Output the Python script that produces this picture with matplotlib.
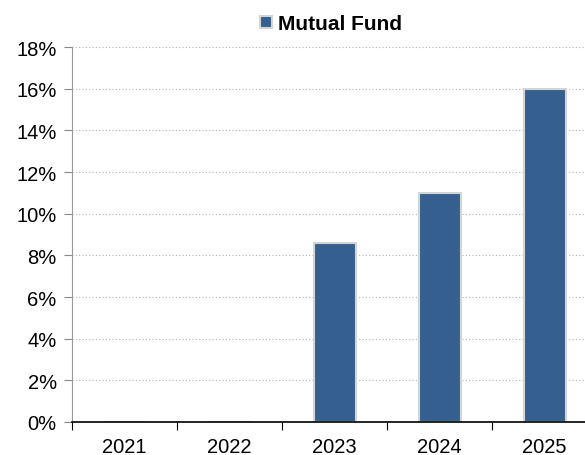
import matplotlib.pyplot as plt
import numpy as np
from matplotlib.ticker import PercentFormatter

# data
years = ['2021', '2022', '2023', '2024', '2025']
mutual_fund = [0.0, 0.0, 8.6, 11.0, 16.0]

plt.rcParams['font.family'] = ['Liberation Sans', 'DejaVu Sans']

fig = plt.figure(figsize=(5.85, 4.56), dpi=100)
# axes runs a bit past the right edge, like the original
ax = fig.add_axes([72/585, 33/456, 525/585, 375/456])

x = np.arange(len(years)) + 0.5
ax.bar(x, mutual_fund, width=0.4, color='#355F8F', edgecolor='#d4d4d4',
       linewidth=1.5, label='Mutual Fund', zorder=2)

ax.set_xlim(0, len(years))
ax.set_ylim(0, 18)
ax.set_yticks(np.arange(0, 19, 2))
ax.yaxis.set_major_formatter(PercentFormatter(decimals=0))
ax.grid(axis='y', color='#b0b0b0', linestyle=(0, (1, 2)), linewidth=0.8, zorder=0)

# ticks at category borders, labels in the middle
ax.set_xticks(np.arange(len(years) + 1))
ax.set_xticklabels([])
ax.set_xticks(x, minor=True)
ax.set_xticklabels(years, minor=True)
ax.tick_params(axis='x', which='major', direction='out', length=6, color='black')
ax.tick_params(axis='x', which='minor', length=0, pad=11, labelsize=14.5)
ax.tick_params(axis='y', direction='out', length=6, color='#888888', labelsize=14.5, pad=5)

for s in ['top', 'right']:
    ax.spines[s].set_visible(False)
ax.spines['left'].set_color('#999999')
ax.spines['bottom'].set_color('black')
ax.spines['bottom'].set_linewidth(1.2)
ax.spines['bottom'].set_zorder(5)

leg = fig.legend(loc='center', bbox_to_anchor=(331/585, 1 - 25/456), frameon=False,
                 prop={'weight': 'bold', 'size': 15}, handlelength=0.55, handleheight=0.55,
                 handletextpad=0.3)

fig.savefig('out.png', dpi=100)
